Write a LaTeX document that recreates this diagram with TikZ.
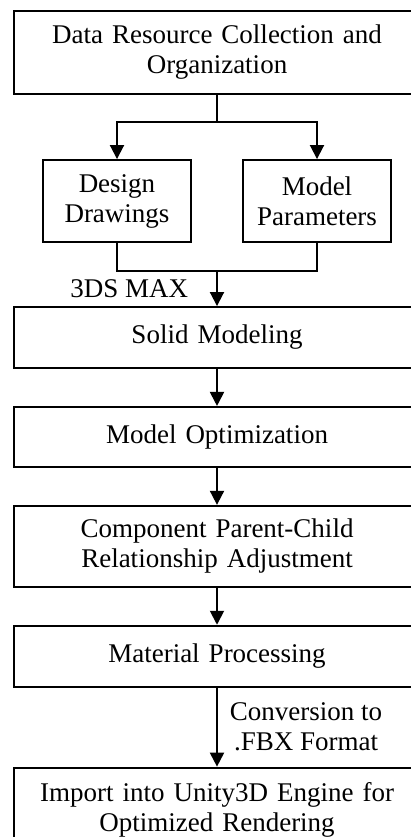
\documentclass[tikz,border=0pt]{standalone}
\usepackage{fontspec}
\setmainfont{Liberation Serif}
\usepackage{tikz}
\usetikzlibrary{arrows.meta,positioning,calc}

\begin{document}
\begin{tikzpicture}[
  x=1pt,y=-1pt,
  box/.style={draw,line width=1.9pt,text width=380pt,inner xsep=13pt,inner ysep=0pt,
              align=center,font=\fontsize{27}{30}\selectfont},
  smallbox/.style={box,text width=122pt},
  ln/.style={line width=1.9pt},
  ar/.style={ln,-{Triangle[length=14pt,width=14pt]}},
  lbl/.style={font=\fontsize{27}{30}\selectfont,inner sep=1pt,align=center}
]
\useasboundingbox[fill=white] (0,0) rectangle (410,837);

% collection stage
\node[box,minimum height=83pt] (data) at (217,52.5) {Data Resource Collection and\\Organization};
\node[smallbox,minimum height=82pt] (design) at (117,201) {Design\\Drawings};
\node[smallbox,minimum height=82pt] (params) at (317,201) {Model\\Parameters};

% modeling chain
\node[box,minimum height=61pt] (solid) at (217,337.5) {Solid Modeling};
\node[box,minimum height=60pt,below=37pt of solid] (optim) {Model Optimization};
\node[box,minimum height=81pt,below=37pt of optim] (parent) {Component Parent-Child\\Relationship Adjustment};
\node[box,minimum height=61pt,below=37pt of parent] (material) {Material Processing};
\node[box,minimum height=84pt,below=79pt of material] (unity) {Import into Unity3D Engine for\\Optimized Rendering};

% split and merge
\draw[ln] (data.south) -- ++(0,27) coordinate (split);
\draw[ar] (split) -| (design.north);
\draw[ar] (split) -| (params.north);
\draw[ln] (design.south) |- ($(design.south)!.5!(params.south)+(0,28)$) coordinate (merge) -| (params.south);
\draw[ar] (merge) -- node[lbl,left=27pt]{3DS MAX} (solid);

\draw[ar] (solid) -- (optim);
\draw[ar] (optim) -- (parent);
\draw[ar] (parent) -- (material);
\draw[ar] (material) -- node[lbl,right=11pt]{Conversion to\\.FBX Format} (unity);
\end{tikzpicture}
\end{document}
